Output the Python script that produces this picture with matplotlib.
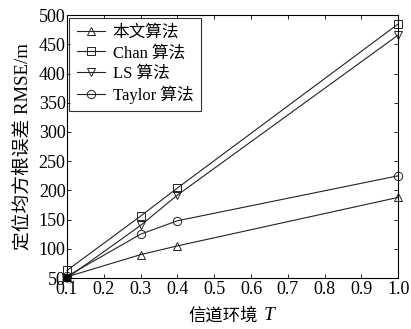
import numpy as np
import matplotlib
matplotlib.use('Agg')
import matplotlib.pyplot as plt

plt.rcParams['font.family'] = ['Liberation Serif', 'Noto Sans CJK SC']

# channel environment T
t_values = [0.1, 0.3, 0.4, 1.0]

# RMSE (m)
rmse_proposed = [52, 90, 105, 188]
rmse_chan = [63, 156, 204, 485]
rmse_ls = [50, 140, 192, 466]
rmse_taylor = [53, 125, 148, 225]

labels = ['本文算法', 'Chan 算法', 'LS 算法', 'Taylor 算法']
markers = ['^', 's', 'v', 'o']

fig = plt.figure(figsize=(4.11, 3.29), dpi=100)
ax = fig.add_axes([0.163, 0.155, 0.806, 0.799])

series = [rmse_proposed, rmse_chan, rmse_ls, rmse_taylor]
for vals, lab, mk in zip(series, labels, markers):
    ax.plot(t_values, vals, color='#222222', linewidth=0.8, marker=mk,
            markersize=6, markerfacecolor='none', markeredgecolor='#222222',
            markeredgewidth=0.7, label=lab, clip_on=False)

# small filled marker at the common start point
ax.plot(t_values[0], rmse_ls[0], marker='s', markersize=4, color='black',
        clip_on=False)

ax.set_xlim(0.1, 1.0)
ax.set_ylim(50, 500)
ax.set_xticks(np.arange(0.1, 1.01, 0.1))
ax.set_xticklabels(['0.1', '0.2', '0.3', '0.4', '0.5', '0.6', '0.7', '0.8', '0.9', '1.0'])
ax.set_yticks(np.arange(50, 501, 50))

ax.tick_params(direction='in', top=True, right=True, labelsize=13,
               length=3, width=0.6)
ax.tick_params(axis='x', pad=2)
ax.tick_params(axis='y', pad=1)
for sp in ax.spines.values():
    sp.set_linewidth(0.8)

# x label: Chinese text plus italic T
fig.text(0.628, 0.026, '信道环境', fontsize=12.5, ha='right', va='baseline')
fig.text(0.641, 0.026, 'T', fontsize=14, style='italic', ha='left', va='baseline')

ax.set_ylabel('定位均方根误差 RMSE/m', fontsize=13.5, labelpad=0)
ax.yaxis.set_label_coords(-0.107, 0.5)

leg = ax.legend(loc='upper left', fontsize=12, frameon=True, fancybox=False,
                edgecolor='black', handlelength=1.7, borderaxespad=0.15,
                borderpad=0.45, labelspacing=0.25, handletextpad=0.45)
leg.get_frame().set_linewidth(0.8)

fig.savefig('out.png', dpi=100)
